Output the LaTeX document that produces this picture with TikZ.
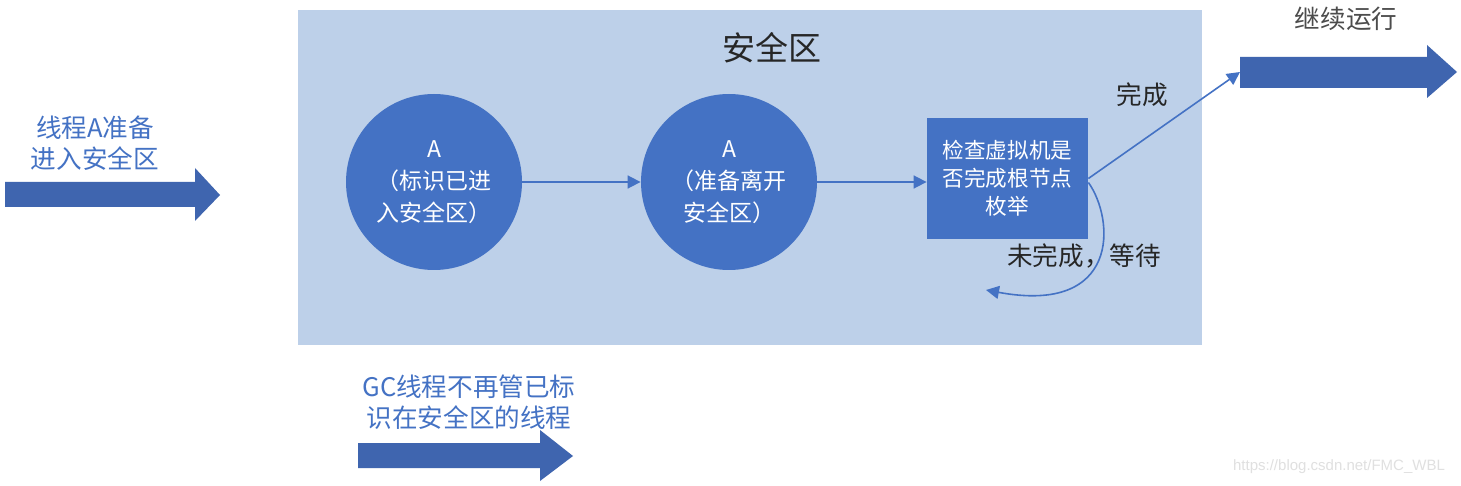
\documentclass[tikz,border=0pt]{standalone}
\usepackage{fontspec}
\setmainfont{Noto Sans CJK SC}
\newfontfamily\latinsans{Liberation Sans}
\usetikzlibrary{arrows.meta}
\definecolor{zonebg}{HTML}{BDD0E9}
\definecolor{nodeblue}{HTML}{4472C4}
\definecolor{bigblue}{HTML}{3F65AF}
\definecolor{labelblue}{HTML}{4472C4}
\tikzset{
  zone/.style={fill=zonebg, draw=none},
  circ/.style={circle, fill=nodeblue, minimum size=88pt, inner sep=0pt, text=white, align=center, font=\fontsize{11.5pt}{16pt}\selectfont},
  checkbox/.style={rectangle, fill=nodeblue, minimum width=80.5pt, minimum height=60.5pt, inner sep=0pt, text=white, align=center, font=\fontsize{10.8pt}{14pt}\selectfont},
  conn/.style={draw=nodeblue, line width=0.8pt, -{Triangle[length=6.5pt,width=6.5pt]}},
  bigarrow/.style={fill=bigblue, draw=none},
  bluelabel/.style={text=labelblue, align=center, font=\fontsize{12.8pt}{15.5pt}\selectfont},
  blacklabel/.style={text=black!85, font=\fontsize{12.8pt}{15pt}\selectfont},
}
\begin{document}
\begin{tikzpicture}[x=0.5pt,y=-0.5pt]
\useasboundingbox (0,0) rectangle (1461,486);
\fill[white] (0,0) rectangle (1461,486);
% safe zone
\fill[zone] (298,10) rectangle (1202,345);
\node[font=\fontsize{16.5pt}{18pt}\selectfont, text=black!85] (title) at (772,48) {安全区};
% nodes
\node[circ] (c1) at (434,182) {A\\（标识已进\\入安全区）};
\node[circ] (c2) at (729,182) {A\\（准备离开\\安全区）};
\node[checkbox] (chk) at (1007.5,178.5) {检查虚拟机是\\否完成根节点\\枚举};
% connectors
\draw[conn] (c1.east) -- (c2.west);
\draw[conn] (c2.east) -- (c2.east -| chk.west);
% big arrows
\fill[bigarrow] (5,182) -- (195,182) -- (195,168) -- (220,195) -- (195,221) -- (195,207) -- (5,207) -- cycle;
\fill[bigarrow] (358,443) -- (540,443) -- (540,430) -- (573,456) -- (540,481) -- (540,468) -- (358,468) -- cycle;
\fill[bigarrow] (1240,57) -- (1427,57) -- (1427,45) -- (1457,72) -- (1427,98) -- (1427,88) -- (1240,88) -- cycle;
\coordinate (cont) at (1240,72);
\coordinate (back) at (986,290);
\draw[conn] (chk.east) -- (cont);
\draw[conn] ([yshift=-2pt]chk.east) .. controls (1115,220) and (1120,315) .. (back);
% labels
\node[blacklabel] (done) at (1142,95) {完成};
\node[blacklabel] (notdone) at (1084,256) {未完成，等待};
\node[bluelabel] (enter) at (95,143) {线程A准备\\进入安全区};
\node[bluelabel] (gc) at (469,402) {GC线程不再管已标\\识在安全区的线程};
\node[text=black!70, font=\fontsize{12.8pt}{15pt}\selectfont] (run) at (1346,19) {继续运行};
\node[text=black!12, font=\latinsans\fontsize{7.5pt}{9pt}\selectfont] (wm) at (1339,467) {https://blog.csdn.net/FMC\_WBL};
\end{tikzpicture}
\end{document}
